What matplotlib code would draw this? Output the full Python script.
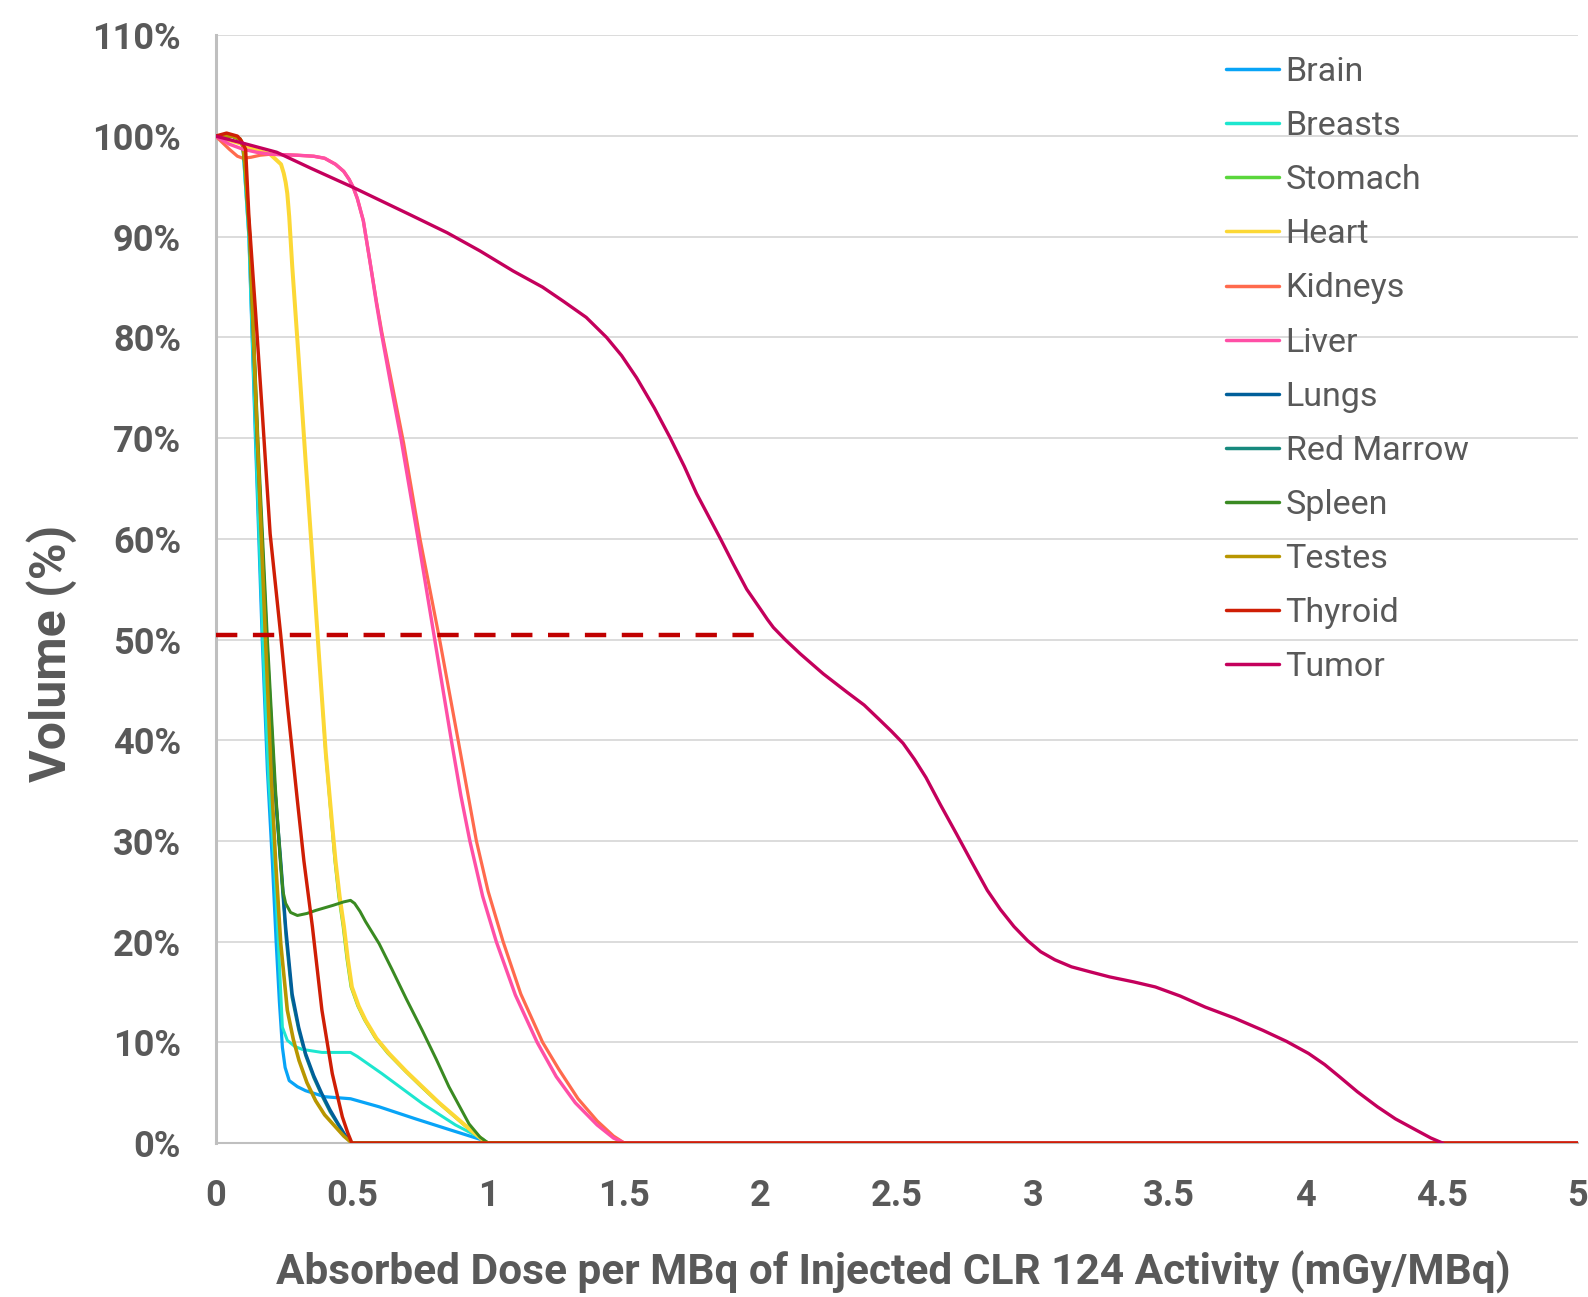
import numpy as np
import matplotlib
matplotlib.use("Agg")
from matplotlib import pyplot as plt
from matplotlib.ticker import FuncFormatter

# dose (mGy/MBq) vs volume (%)
brain_x = [0, 0.06, 0.09, 0.1, 0.105, 0.122, 0.146, 0.171, 0.19, 0.208, 0.222, 0.234, 0.245, 0.255, 0.27, 0.3, 0.33, 0.4, 0.495, 0.6, 0.734, 0.85, 0.979, 1.0, 5]
brain_y = [100, 100, 99.7, 99, 97, 90, 70, 50, 37, 28, 20, 14, 9.5, 7.5, 6.2, 5.6, 5.2, 4.6, 4.4, 3.6, 2.4, 1.4, 0.3, 0, 0]

breasts_x = [0, 0.06, 0.09, 0.1, 0.105, 0.122, 0.147, 0.173, 0.195, 0.215, 0.23, 0.245, 0.263, 0.29, 0.318, 0.39, 0.495, 0.52, 0.61, 0.76, 0.88, 0.98, 1.0, 5]
breasts_y = [100, 100, 99.7, 99, 97, 90, 70, 50, 36, 28, 20, 11.5, 10.2, 9.6, 9.3, 9.0, 9.0, 8.6, 6.9, 3.9, 1.8, 0.4, 0, 0]

stomach_x = [0, 0.05, 0.1, 0.15, 0.2, 0.24, 0.25, 0.257, 0.263, 0.27, 0.281, 0.306, 0.33, 0.355, 0.379, 0.402, 0.425, 0.436, 0.45, 0.466, 0.48, 0.495, 0.52, 0.545, 0.585, 0.63, 0.695, 0.752, 0.815, 0.875, 0.935, 0.99, 1.0, 5]
stomach_y = [100, 99.6, 99.2, 98.6, 98.2, 97.2, 96.3, 95.4, 94.3, 92, 87.1, 77.4, 67.8, 58.1, 48.5, 38.8, 31.5, 28, 24.5, 21.5, 18.3, 15.5, 13.6, 12.2, 10.4, 8.9, 7.1, 5.6, 4.0, 2.6, 1.2, 0.1, 0, 0]

heart_x = [0, 0.05, 0.1, 0.15, 0.2, 0.24, 0.25, 0.257, 0.263, 0.27, 0.281, 0.306, 0.33, 0.355, 0.379, 0.404, 0.428, 0.44, 0.455, 0.471, 0.485, 0.50, 0.525, 0.55, 0.59, 0.636, 0.7, 0.758, 0.82, 0.88, 0.94, 0.99, 1.0, 5]
heart_y = [100, 99.6, 99.2, 98.6, 98.2, 97.2, 96.3, 95.4, 94.3, 92, 87.1, 77.4, 67.8, 58.1, 48.5, 38.8, 31.5, 28, 24.5, 21.5, 18.3, 15.5, 13.6, 12.2, 10.4, 8.9, 7.1, 5.6, 4.0, 2.6, 1.2, 0.1, 0, 0]

kidneys_x = [0, 0.05, 0.08, 0.1, 0.13, 0.163, 0.2, 0.3, 0.36, 0.4, 0.44, 0.47, 0.49, 0.505, 0.52, 0.542, 0.566, 0.59, 0.61, 0.65, 0.69, 0.75, 0.822, 0.89, 0.957, 1.0, 1.055, 1.12, 1.2, 1.26, 1.33, 1.4, 1.46, 1.5, 5]
kidneys_y = [100, 98.7, 98.0, 97.8, 97.9, 98.1, 98.2, 98.1, 98.0, 97.8, 97.2, 96.5, 95.7, 94.9, 93.8, 91.6, 87.6, 83.6, 80.5, 75, 69.5, 60, 50, 40, 30, 25, 20, 14.8, 10, 7.3, 4.4, 2.2, 0.7, 0, 0]

liver_x = [0, 0.05, 0.1, 0.15, 0.2, 0.3, 0.36, 0.4, 0.44, 0.47, 0.49, 0.505, 0.52, 0.542, 0.566, 0.59, 0.608, 0.645, 0.68, 0.743, 0.804, 0.865, 0.9, 0.933, 0.98, 1.03, 1.1, 1.18, 1.25, 1.32, 1.4, 1.46, 1.5, 5]
liver_y = [100, 99.2, 98.7, 98.4, 98.2, 98.1, 98.0, 97.8, 97.2, 96.5, 95.7, 94.9, 93.8, 91.6, 87.6, 83.4, 80.5, 75, 70, 60, 50, 40, 34.5, 30, 24.5, 20, 14.7, 10, 6.6, 4, 1.8, 0.5, 0, 0]

lungs_x = [0, 0.06, 0.09, 0.1, 0.108, 0.125, 0.152, 0.186, 0.215, 0.239, 0.257, 0.281, 0.305, 0.33, 0.36, 0.39, 0.42, 0.45, 0.475, 0.5, 5]
lungs_y = [100, 100, 99.7, 99, 97, 90, 70, 50, 36, 28, 21.5, 14.8, 11.5, 8.9, 6.7, 4.9, 3.3, 1.9, 0.8, 0, 0]

marrow_x = [0, 0.06, 0.09, 0.1, 0.108, 0.125, 0.153, 0.188, 0.218, 0.24, 0.258, 0.28, 0.305, 0.33, 0.36, 0.39, 0.42, 0.45, 0.475, 0.5, 5]
marrow_y = [100, 100, 99.7, 99, 97, 90, 70, 50, 35, 27, 20.5, 14.5, 11.2, 8.7, 6.5, 4.7, 3.1, 1.8, 0.7, 0, 0]

spleen_x = [0, 0.06, 0.09, 0.1, 0.108, 0.125, 0.155, 0.19, 0.22, 0.238, 0.247, 0.257, 0.275, 0.3, 0.335, 0.367, 0.43, 0.47, 0.495, 0.51, 0.53, 0.55, 0.6, 0.648, 0.7, 0.758, 0.81, 0.856, 0.9, 0.93, 0.97, 1.0, 5]
spleen_y = [100, 100, 99.7, 99, 97, 90, 70, 50, 35, 28, 25, 23.8, 22.9, 22.6, 22.8, 23.1, 23.6, 23.95, 24.1, 23.8, 23.0, 22.0, 19.8, 17.2, 14.3, 11.2, 8.3, 5.6, 3.4, 1.9, 0.6, 0, 0]

testes_x = [0, 0.06, 0.09, 0.1, 0.108, 0.125, 0.15, 0.183, 0.205, 0.22, 0.239, 0.263, 0.285, 0.306, 0.335, 0.367, 0.4, 0.44, 0.47, 0.5, 5]
testes_y = [100, 100, 99.7, 99, 97, 90, 72, 50, 36, 28, 19.8, 13.2, 10.3, 8.2, 6.0, 4.2, 2.8, 1.6, 0.7, 0, 0]

thyroid_x = [0, 0.04, 0.08, 0.095, 0.11, 0.122, 0.147, 0.171, 0.2, 0.239, 0.263, 0.3, 0.324, 0.355, 0.39, 0.428, 0.465, 0.485, 0.5, 5]
thyroid_y = [100, 100.3, 100, 99.5, 98.7, 92, 82.3, 72.6, 60.5, 50.4, 43.6, 34, 28, 21.5, 13.2, 6.9, 2.6, 1.0, 0, 0]

tumor_x = [0, 0.1, 0.224, 0.35, 0.505, 0.713, 0.85, 0.97, 1.092, 1.2, 1.276, 1.36, 1.435, 1.49, 1.545, 1.61, 1.667, 1.72, 1.765, 1.851, 1.90, 1.949, 2.0, 2.025, 2.047, 2.09, 2.145, 2.23, 2.316, 2.38, 2.438, 2.48, 2.523, 2.565, 2.607, 2.66, 2.719, 2.775, 2.832, 2.88, 2.93, 2.98, 3.028, 3.08, 3.141, 3.21, 3.281, 3.37, 3.449, 3.54, 3.632, 3.74, 3.843, 3.93, 4.011, 4.07, 4.124, 4.19, 4.264, 4.33, 4.405, 4.46, 4.503]
tumor_y = [100, 99.3, 98.4, 96.8, 94.9, 92.2, 90.4, 88.6, 86.6, 85.0, 83.6, 82.0, 80.0, 78.2, 76.0, 73.0, 70.1, 67.2, 64.5, 60.1, 57.5, 55.0, 53.0, 52.0, 51.2, 50.0, 48.6, 46.6, 44.8, 43.5, 42.0, 40.9, 39.7, 38.1, 36.3, 33.6, 30.7, 27.9, 25.1, 23.2, 21.5, 20.1, 19.0, 18.2, 17.5, 17.0, 16.5, 16.0, 15.5, 14.6, 13.5, 12.4, 11.2, 10.1, 8.9, 7.8, 6.6, 5.1, 3.6, 2.4, 1.3, 0.5, 0]

names = ["Brain", "Breasts", "Stomach", "Heart", "Kidneys", "Liver", "Lungs",
         "Red Marrow", "Spleen", "Testes", "Thyroid", "Tumor"]
xs = [brain_x, breasts_x, stomach_x, heart_x, kidneys_x, liver_x, lungs_x,
      marrow_x, spleen_x, testes_x, thyroid_x, tumor_x]
ys = [brain_y, breasts_y, stomach_y, heart_y, kidneys_y, liver_y, lungs_y,
      marrow_y, spleen_y, testes_y, thyroid_y, tumor_y]
colors = ["#08a4f7", "#1de6cf", "#5ad63c", "#fcd835", "#ff6a4d", "#ff4fa6",
          "#005f9a", "#17897e", "#3a8a22", "#b89600", "#cf1e05", "#c4005c"]
# line widths in pixels
widths = [3.2, 3.0, 2.0, 4.0, 3.2, 3.4, 3.2, 3.0, 3.0, 3.6, 3.4, 3.3]
zorders = [3, 3, 2.5, 3, 3, 3.1, 3, 2.6, 3, 3, 3.15, 3.2]

dash_level = 50.5
dash_end = 2.0

gray = "#595959"
plt.rcParams['font.family'] = ['Roboto', 'DejaVu Sans']

fig = plt.figure(figsize=(15.88, 12.97), dpi=100)
ax = fig.add_axes([0.1358, 0.1187, 0.9937 - 0.1358, 0.9727 - 0.1187])

for x, y, n, c, w, z in zip(xs, ys, names, colors, widths, zorders):
    ax.plot(x, y, color=c, lw=w * 0.72, label=n, zorder=z,
            solid_joinstyle="round", solid_capstyle="round")

ax.plot([0, dash_end], [dash_level, dash_level], color="#c00000", lw=3.2,
        dashes=(4.8, 3.5), zorder=4)

ax.set_xlim(0, 5)
ax.set_ylim(0, 110)
ax.set_xticks(np.arange(0, 5.01, 0.5))
ax.set_yticks(np.arange(0, 111, 10))
ax.xaxis.set_major_formatter(FuncFormatter(lambda v, p: "%g" % v))
ax.yaxis.set_major_formatter(FuncFormatter(lambda v, p: "%d%%" % round(v)))
ax.tick_params(length=0, labelsize=26, labelcolor=gray)
ax.tick_params(axis="y", pad=25)
ax.tick_params(axis="x", pad=25)
for lab in ax.get_xticklabels() + ax.get_yticklabels():
    lab.set_fontweight("bold")

ax.grid(axis="y", color="#d9d9d9", lw=1.3, zorder=0)
ax.set_axisbelow(True)
for s in ["top", "right"]:
    ax.spines[s].set_visible(False)
ax.spines["left"].set_color("#bfbfbf")
ax.spines["left"].set_linewidth(2.2)
ax.spines["bottom"].set_color("#bfbfbf")
ax.spines["bottom"].set_linewidth(1.5)

fig.text(0.5625, 0.0093, "Absorbed Dose per MBq of Injected CLR 124 Activity (mGy/MBq)",
         ha="center", va="baseline", fontsize=30.5, fontweight="bold", color=gray)
fig.text(0.0328, 0.4966, "Volume (%)", rotation=90, ha="center", va="center",
         fontsize=36, fontweight="bold", color=gray)

leg = ax.legend(loc="upper left", bbox_to_anchor=(1226 / 1588, 1 - 56 / 1297),
                bbox_transform=fig.transFigure, frameon=False, fontsize=24.5,
                handlelength=1.55, handletextpad=0.2, labelspacing=0.65,
                borderpad=0, borderaxespad=0)
for t in leg.get_texts():
    t.set_color(gray)
for h in leg.get_lines():
    h.set_linewidth(2.5)

fig.savefig("out.png", dpi=100)
